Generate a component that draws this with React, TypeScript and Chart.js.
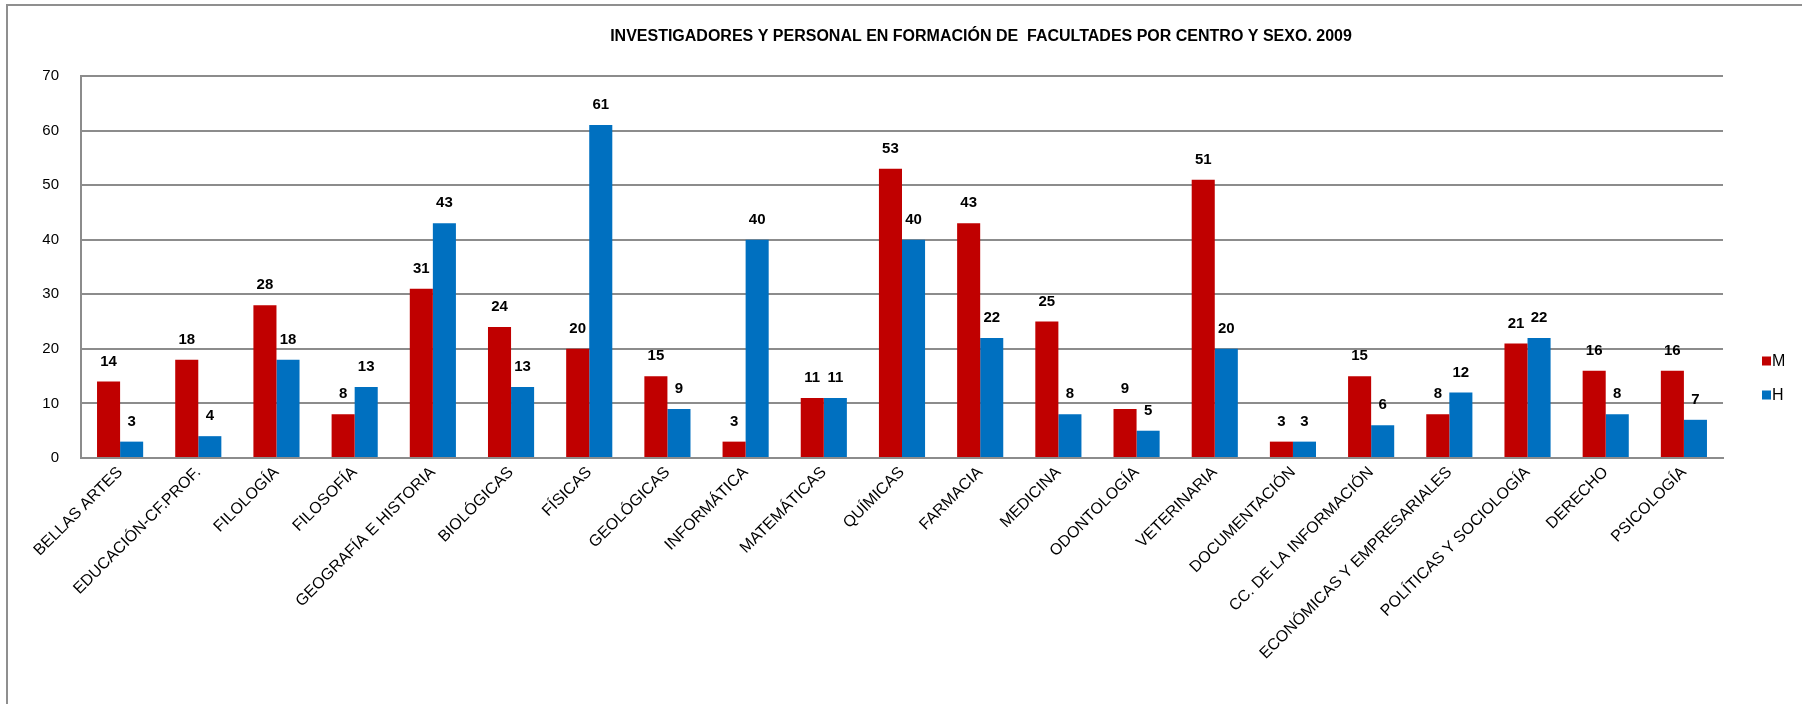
import { useEffect, useRef } from "react";
import { Chart, registerables } from "chart.js";

Chart.register(...registerables);

const TITLE = "INVESTIGADORES Y PERSONAL EN FORMACIÓN DE  FACULTADES POR CENTRO Y SEXO. 2009";

const categories = [
  "BELLAS ARTES",
  "EDUCACIÓN-CF.PROF.",
  "FILOLOGÍA",
  "FILOSOFÍA",
  "GEOGRAFÍA E HISTORIA",
  "BIOLÓGICAS",
  "FÍSICAS",
  "GEOLÓGICAS",
  "INFORMÁTICA",
  "MATEMÁTICAS",
  "QUÍMICAS",
  "FARMACIA",
  "MEDICINA",
  "ODONTOLOGÍA",
  "VETERINARIA",
  "DOCUMENTACIÓN",
  "CC. DE LA INFORMACIÓN",
  "ECONÓMICAS Y EMPRESARIALES",
  "POLÍTICAS Y SOCIOLOGÍA",
  "DERECHO",
  "PSICOLOGÍA",
];

const valuesM = [14, 18, 28, 8, 31, 24, 20, 15, 3, 11, 53, 43, 25, 9, 51, 3, 15, 8, 21, 16, 16];
const valuesH = [3, 4, 18, 13, 43, 13, 61, 9, 40, 11, 40, 22, 8, 5, 20, 3, 6, 12, 22, 8, 7];

const seriesNames = ["M", "H"];
const seriesColors = ["#C00000", "#0070C0"];

const yMin = 0;
const yMax = 70;
const yStep = 10;

const FONT = '"Liberation Sans", Arial, sans-serif';
const GRID = "#8c8c8c";

export default function App() {
  const ref = useRef<HTMLCanvasElement | null>(null);

  useEffect(() => {
    if (!ref.current) return;

    const titlePlugin = {
      id: "customTitle",
      afterDraw(chart: any) {
        const ctx = chart.ctx;
        ctx.save();
        ctx.font = `bold 16px ${FONT}`;
        ctx.fillStyle = "#000";
        ctx.textAlign = "center";
        ctx.textBaseline = "middle";
        ctx.fillText(TITLE, 981, 37, 744);
        ctx.restore();
      },
    };

    const valueLabels = {
      id: "valueLabels",
      afterDatasetsDraw(chart: any) {
        const ctx = chart.ctx;
        ctx.save();
        ctx.font = `bold 15px ${FONT}`;
        ctx.fillStyle = "#000";
        ctx.textAlign = "center";
        ctx.textBaseline = "middle";
        chart.data.datasets.forEach((ds: any, i: number) => {
          const meta = chart.getDatasetMeta(i);
          meta.data.forEach((el: any, j: number) => {
            ctx.fillText(String(ds.data[j]), el.x, el.y - 20);
          });
        });
        ctx.restore();
      },
    };

    const legendPlugin = {
      id: "customLegend",
      afterDraw(chart: any) {
        const ctx = chart.ctx;
        ctx.save();
        ctx.font = `16px ${FONT}`;
        ctx.textAlign = "left";
        ctx.textBaseline = "middle";
        chart.data.datasets.forEach((ds: any, i: number) => {
          const cy = 361 + i * 34;
          ctx.fillStyle = ds.backgroundColor;
          ctx.fillRect(1762, cy - 4.5, 9, 9);
          ctx.fillStyle = "#000";
          ctx.fillText(ds.label, 1772, cy + 0.5);
        });
        ctx.restore();
      },
    };

    const chart = new Chart(ref.current, {
      type: "bar",
      data: {
        labels: categories,
        datasets: [
          {
            label: seriesNames[0],
            data: valuesM,
            backgroundColor: seriesColors[0],
            categoryPercentage: 0.59,
            barPercentage: 1,
          },
          {
            label: seriesNames[1],
            data: valuesH,
            backgroundColor: seriesColors[1],
            categoryPercentage: 0.59,
            barPercentage: 1,
          },
        ],
      },
      options: {
        animation: false,
        responsive: false,
        maintainAspectRatio: false,
        events: [],
        layout: { padding: { top: 76, right: 79, left: 0, bottom: 0 } },
        plugins: {
          legend: { display: false },
          title: { display: false },
          tooltip: { enabled: false },
        },
        scales: {
          x: {
            grid: { display: false, drawTicks: false },
            border: { display: true, color: GRID, width: 2 },
            ticks: {
              autoSkip: false,
              minRotation: 45,
              maxRotation: 45,
              padding: 5,
              color: "#000",
              font: { family: FONT, size: 16 },
            },
            afterFit(scale: any) {
              scale.height = 246;
            },
          },
          y: {
            min: yMin,
            max: yMax,
            grid: { color: GRID, lineWidth: 2, drawTicks: false },
            border: { display: true, color: GRID, width: 2 },
            ticks: {
              stepSize: yStep,
              padding: 22,
              color: "#000",
              font: { family: FONT, size: 15 },
            },
            afterFit(scale: any) {
              scale.width = 81;
            },
          },
        },
      },
      plugins: [valueLabels, titlePlugin, legendPlugin],
    });

    return () => chart.destroy();
  }, []);

  return (
    <div style={{ position: "fixed", left: 0, top: 0, width: 1802, height: 704, overflow: "hidden", background: "#fff" }}>
      <div
        style={{
          position: "absolute",
          left: 6,
          top: 4,
          width: 2000,
          height: 900,
          borderTop: "2px solid #8f8f8f",
          borderLeft: "2px solid #8f8f8f",
        }}
      />
      <canvas ref={ref} width={1802} height={704} style={{ position: "absolute", left: 0, top: 0, width: 1802, height: 704 }} />
    </div>
  );
}
